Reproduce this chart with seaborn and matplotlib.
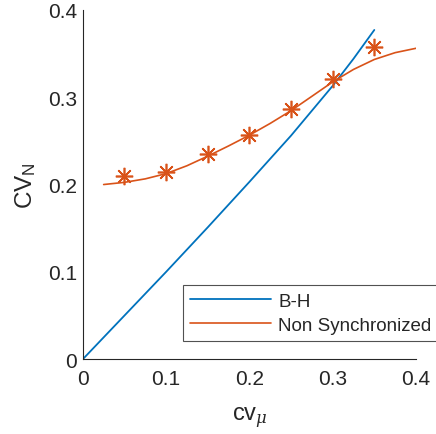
import numpy as np
import pandas as pd
import seaborn as sns
import matplotlib.pyplot as plt

# B-H curve
bh_x = [0.0, 0.05, 0.1, 0.15, 0.2, 0.25, 0.3, 0.325, 0.35]
bh_y = [0.0, 0.050, 0.100, 0.151, 0.203, 0.256, 0.313, 0.344, 0.377]

# fitted curve for the non synchronized case
ns_x = [0.025, 0.05, 0.075, 0.1, 0.125, 0.15, 0.175, 0.2, 0.225, 0.25,
        0.275, 0.3, 0.325, 0.35, 0.375, 0.4]
ns_y = [0.200, 0.2025, 0.2065, 0.2125, 0.2215, 0.2325, 0.2442, 0.2565, 0.2700, 0.2846,
        0.3010, 0.3175, 0.3318, 0.3432, 0.3510, 0.3560]

# simulated points
pts_x = [0.05, 0.1, 0.15, 0.2, 0.25, 0.3, 0.35]
pts_y = [0.210, 0.2147, 0.235, 0.257, 0.287, 0.321, 0.357]

blue = "#0072BD"
orange = "#D95319"

sns.set_style("white")
plt.rcParams['font.family'] = ['Liberation Sans', 'DejaVu Sans']
plt.rcParams['mathtext.fontset'] = 'custom'
plt.rcParams['mathtext.rm'] = 'Liberation Sans'
plt.rcParams['mathtext.it'] = 'DejaVu Serif:italic'

fig = plt.figure(figsize=(4.36, 4.35), dpi=100)
ax = fig.add_axes([0.19, 0.172, 0.764, 0.803])

bh = pd.DataFrame({"x": bh_x, "y": bh_y})
ns = pd.DataFrame({"x": ns_x, "y": ns_y})
pts = pd.DataFrame({"x": pts_x, "y": pts_y})

sns.lineplot(data=bh, x="x", y="y", ax=ax, color=blue, lw=1.3, label="B-H", sort=False)
sns.lineplot(data=ns, x="x", y="y", ax=ax, color=orange, lw=1.2, label="Non Synchronized", sort=False)
ax.plot(pts["x"], pts["y"], ls="none", marker=(8, 2, 0), ms=12.5, mew=1.2, color=orange)

ax.set_xlim(0, 0.4)
ax.set_ylim(0, 0.4)
ax.set_xticks([0, 0.1, 0.2, 0.3, 0.4])
ax.set_yticks([0, 0.1, 0.2, 0.3, 0.4])
ax.set_xticklabels(["0", "0.1", "0.2", "0.3", "0.4"])
ax.set_yticklabels(["0", "0.1", "0.2", "0.3", "0.4"])
ax.tick_params(direction="in", length=3, width=0.8, colors="#262626", labelsize=15, pad=4)
ax.tick_params(axis="x", pad=7)
for s in ["top", "right"]:
    ax.spines[s].set_visible(False)
for s in ["left", "bottom"]:
    ax.spines[s].set_color("#262626")
    ax.spines[s].set_linewidth(0.8)

ax.set_xlabel(r"cv$_\mu$", fontsize=17, color="#262626", labelpad=12)
ax.set_ylabel(r"CV$_\mathrm{N}$", fontsize=17.5, color="#262626", labelpad=7)

leg = ax.legend(loc="lower left", bbox_to_anchor=(0.30, 0.052, 0.78, 0.168), mode="expand",
                fontsize=13.5, frameon=True, fancybox=False, edgecolor="#262626",
                handlelength=4.3, handletextpad=0.4, labelspacing=0.35, borderaxespad=0)
leg.get_frame().set_linewidth(0.8)

fig.savefig("out.png", dpi=100)
